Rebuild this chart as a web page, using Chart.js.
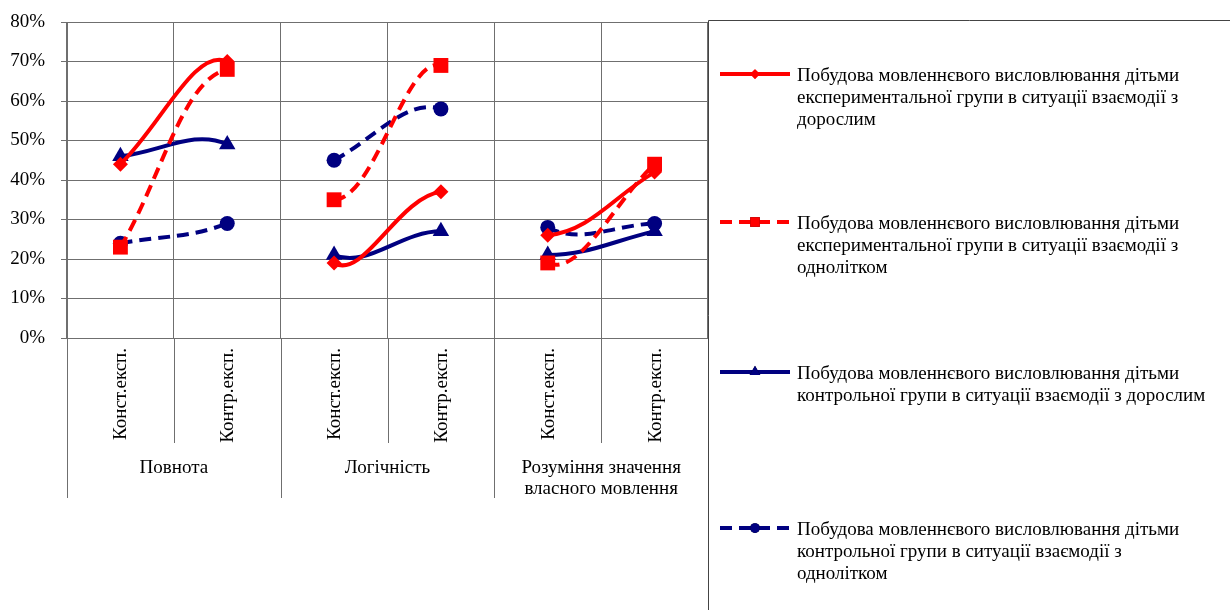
<!DOCTYPE html>
<html>
<head>
<meta charset="utf-8">
<script src="https://cdn.jsdelivr.net/npm/chart.js@4/dist/chart.umd.min.js"></script>
<style>
  html, body { margin: 0; padding: 0; background: #fff; }
  #wrap { position: relative; width: 1230px; height: 610px; }
</style>
</head>
<body>
<div id="wrap"><canvas id="chart" width="1230" height="610"></canvas></div>
<script>
/* ===== дані ===== */
const categories = ['Конст.експ.', 'Контр.експ.', 'Конст.експ.', 'Контр.експ.', 'Конст.експ.', 'Контр.експ.'];
const groups = [['Повнота'], ['Логічність'], ['Розуміння значення', 'власного мовлення']];
const yTicks = [0, 10, 20, 30, 40, 50, 60, 70, 80];

const expAdult = [44, 70, 19, 37, 26, 42];
const expPeer = [23, 68, 35, 69, 19, 44];
const ctrlAdult = [46, 49, 21, 27, 21, 27];
const ctrlPeer = [24, 29, 45, 58, 28, 29];

const seriesNames = [
  ['Побудова мовленнєвого висловлювання дітьми', 'експериментальної групи в ситуації взаємодії з', 'дорослим'],
  ['Побудова мовленнєвого висловлювання дітьми', 'експериментальної групи в ситуації взаємодії з', 'однолітком'],
  ['Побудова мовленнєвого висловлювання дітьми', 'контрольної групи в ситуації взаємодії з дорослим'],
  ['Побудова мовленнєвого висловлювання дітьми', 'контрольної групи в ситуації взаємодії з', 'однолітком'],
];

const FONT = '"Liberation Serif", "Times New Roman", serif';
const RED = '#ff0000', NAVY = '#000080', GRID = '#6f6f6f';

// лінії між групами не малюємо (сплайн рахується по всіх точках, як в Excel)
const gapSeg = { borderColor: c => (c.p0DataIndex === 1 || c.p0DataIndex === 3) ? 'rgba(0,0,0,0)' : undefined };

function ds(data, color, style, radius, dashed) {
  return {
    data, borderColor: color, backgroundColor: color, borderWidth: 4,
    borderDash: dashed ? [12, 7] : [], pointStyle: style, pointRadius: radius,
    pointBorderWidth: 0, pointBackgroundColor: color, tension: 0.38,
    segment: gapSeg, clip: false,
  };
}
const datasets = [
  ds(expAdult, RED, 'rectRot', 7.5, false),
  ds(expPeer, RED, 'rect', 10.5, true),
  ds(ctrlAdult, NAVY, 'triangle', 9.5, false),
  ds(ctrlPeer, NAVY, 'circle', 7.5, true),
];

/* ---------- підписи категорій + лінії під віссю ---------- */
const catAxis = {
  id: 'catAxis',
  afterDraw(c) {
    const { ctx, chartArea: a } = c; const x = c.scales.x;
    const half = (x.getPixelForValue(1) - x.getPixelForValue(0)) / 2;
    ctx.save();
    ctx.strokeStyle = GRID; ctx.lineWidth = 1;
    for (let i = 0; i <= categories.length; i++) {
      const px = Math.round(x.getPixelForValue(i) - half) + 0.5;
      const long = i % 2 === 0;
      ctx.beginPath(); ctx.moveTo(px, a.bottom); ctx.lineTo(px, long ? 498 : 443); ctx.stroke();
    }
    ctx.fillStyle = '#000'; ctx.font = '19px ' + FONT;
    categories.forEach((t, i) => {
      ctx.save();
      ctx.translate(x.getPixelForValue(i) + 1, a.bottom + 10);
      ctx.rotate(-Math.PI / 2);
      ctx.textAlign = 'right'; ctx.textBaseline = 'middle';
      ctx.fillText(t, 0, 0);
      ctx.restore();
    });
    ctx.textAlign = 'center'; ctx.textBaseline = 'middle';
    groups.forEach((g, k) => {
      const cx = (x.getPixelForValue(2 * k) + x.getPixelForValue(2 * k + 1)) / 2;
      g.forEach((line, j) => ctx.fillText(line, cx, 468 + j * 21));
    });
    ctx.restore();
  },
};

/* ---------- легенда справа ---------- */
const sideLegend = {
  id: 'sideLegend',
  afterDraw(c) {
    const { ctx, chartArea: a } = c;
    const tops = [74, 222, 372, 528];
    ctx.save();
    ctx.strokeStyle = '#444'; ctx.lineWidth = 1;
    ctx.beginPath(); ctx.moveTo(a.right + 0.5, 610); ctx.lineTo(a.right + 0.5, 20.5); ctx.lineTo(1230, 20.5); ctx.stroke();
    datasets.forEach((d, i) => {
      const y = tops[i];
      ctx.strokeStyle = d.borderColor; ctx.lineWidth = 4;
      ctx.setLineDash(d.borderDash);
      ctx.beginPath(); ctx.moveTo(720, y); ctx.lineTo(790, y); ctx.stroke();
      ctx.setLineDash([]);
      Chart.helpers.drawPoint(ctx, { pointStyle: d.pointStyle, radius: d.pointRadius * 0.65, borderWidth: 0 }, 755, y);
      ctx.fillStyle = d.borderColor; ctx.fill();
      ctx.fillStyle = '#000'; ctx.font = '19px ' + FONT; ctx.textAlign = 'left'; ctx.textBaseline = 'middle';
      seriesNames[i].forEach((line, j) => ctx.fillText(line, 797, y + 2 + j * 22));
    });
    ctx.restore();
  },
};

new Chart(document.getElementById('chart'), {
  type: 'line',
  data: { labels: categories, datasets },
  options: {
    responsive: false, animation: false, devicePixelRatio: 1,
    layout: { padding: { top: 22, right: 522, bottom: 112, left: 0 } },
    plugins: { legend: { display: false }, tooltip: { enabled: false } },
    scales: {
      x: {
        offset: true,
        grid: { offset: true, color: GRID, drawTicks: false },
        border: { color: GRID },
        ticks: { display: false },
        afterFit: s => { s.height = 160; },
      },
      y: {
        min: 0, max: 80,
        afterBuildTicks: s => { s.ticks = yTicks.map(v => ({ value: v })); },
        grid: { color: GRID, tickLength: 6 },
        border: { color: GRID },
        ticks: { color: '#000', padding: 16, font: { family: FONT, size: 19 }, callback: v => v + '%' },
        afterFit: s => { s.width = 67; s.paddingTop = 0; s.paddingBottom = 0; },
      },
    },
  },
  plugins: [catAxis, sideLegend],
});
</script>
</body>
</html>
